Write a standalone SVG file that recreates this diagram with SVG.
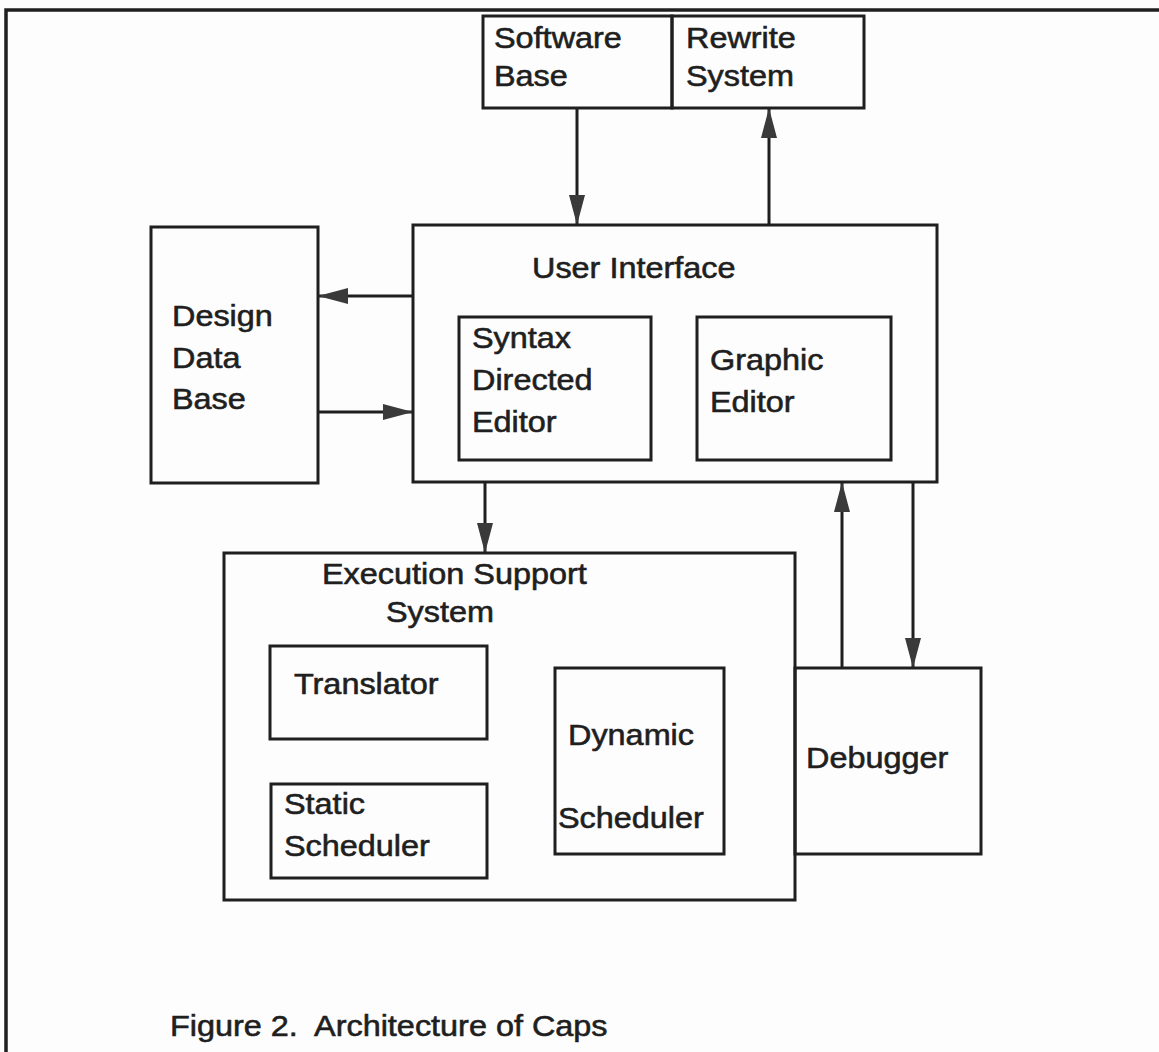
<svg xmlns="http://www.w3.org/2000/svg" width="1159" height="1052" viewBox="0 0 1159 1052">
  <defs>
    <style>
      .box { fill: none; stroke: #1f1f1f; stroke-width: 3; }
      .frame { fill: none; stroke: #1f1f1f; stroke-width: 3.5; }
      .wire { fill: none; stroke: #1f1f1f; stroke-width: 3; }
      .lbl { font-family: "Liberation Sans", Arial, sans-serif; font-size: 30px; fill: #1f1f1f; stroke: #1f1f1f; stroke-width: 0.6; }
      .cap { font-family: "Liberation Sans", Arial, sans-serif; font-size: 30px; fill: #1f1f1f; stroke: #1f1f1f; stroke-width: 0.6; }
    </style>
    <marker id="head" markerUnits="userSpaceOnUse" markerWidth="30" markerHeight="16" refX="30" refY="8" orient="auto">
      <path d="M0,0 L30,8 L0,16 Z" fill="#3a3a3a"/>
    </marker>
  </defs>

  <rect x="0" y="0" width="1159" height="1052" fill="#fdfdfd"/>

  <!-- page frame -->
  <path class="frame" d="M6,1052 V10 H1159"/>

  <g id="software-base">
    <rect class="box" x="483" y="16" width="189" height="92"/>
    <text class="lbl" transform="translate(494 48) scale(1.08 1)"><tspan x="0">Software</tspan><tspan x="0" dy="38">Base</tspan></text>
  </g>

  <g id="rewrite-system">
    <rect class="box" x="672" y="16" width="192" height="92"/>
    <text class="lbl" transform="translate(686 48) scale(1.08 1)"><tspan x="0">Rewrite</tspan><tspan x="0" dy="38">System</tspan></text>
  </g>

  <g id="design-data-base">
    <rect class="box" x="151" y="227" width="167" height="256"/>
    <text class="lbl" transform="translate(172 326) scale(1.08 1)"><tspan x="0">Design</tspan><tspan x="0" dy="42">Data</tspan><tspan x="0" dy="41">Base</tspan></text>
  </g>

  <g id="user-interface">
    <rect class="box" x="413" y="225" width="524" height="257"/>
    <text class="lbl" transform="translate(532 278) scale(1.08 1)">User Interface</text>
  </g>

  <g id="syntax-directed-editor">
    <rect class="box" x="459" y="317" width="192" height="143"/>
    <text class="lbl" transform="translate(472 348) scale(1.08 1)"><tspan x="0">Syntax</tspan><tspan x="0" dy="42">Directed</tspan><tspan x="0" dy="42">Editor</tspan></text>
  </g>

  <g id="graphic-editor">
    <rect class="box" x="697" y="317" width="194" height="143"/>
    <text class="lbl" transform="translate(710 370) scale(1.08 1)"><tspan x="0">Graphic</tspan><tspan x="0" dy="42">Editor</tspan></text>
  </g>

  <g id="execution-support-system">
    <rect class="box" x="224" y="553" width="571" height="347"/>
    <text class="lbl" transform="translate(322 584) scale(1.08 1)">Execution Support</text>
    <text class="lbl" transform="translate(386 622) scale(1.08 1)">System</text>
  </g>

  <g id="translator">
    <rect class="box" x="270" y="646" width="217" height="93"/>
    <text class="lbl" transform="translate(294 694) scale(1.08 1)">Translator</text>
  </g>

  <g id="static-scheduler">
    <rect class="box" x="271" y="784" width="216" height="94"/>
    <text class="lbl" transform="translate(284 814) scale(1.08 1)"><tspan x="0">Static</tspan><tspan x="0" dy="42">Scheduler</tspan></text>
  </g>

  <g id="dynamic-scheduler">
    <rect class="box" x="555" y="668" width="169" height="186"/>
    <text class="lbl" transform="translate(568 745) scale(1.08 1)">Dynamic</text>
    <text class="lbl" transform="translate(558 828) scale(1.08 1)">Scheduler</text>
  </g>

  <g id="debugger">
    <rect class="box" x="795" y="668" width="186" height="186"/>
    <text class="lbl" transform="translate(806 768) scale(1.08 1)">Debugger</text>
  </g>

  <g id="connectors">
    <line class="wire" x1="577" y1="108" x2="577" y2="225" marker-end="url(#head)"/>
    <line class="wire" x1="769" y1="225" x2="769" y2="108" marker-end="url(#head)"/>
    <line class="wire" x1="413" y1="296" x2="318" y2="296" marker-end="url(#head)"/>
    <line class="wire" x1="318" y1="412" x2="413" y2="412" marker-end="url(#head)"/>
    <line class="wire" x1="485" y1="482" x2="485" y2="553" marker-end="url(#head)"/>
    <line class="wire" x1="842" y1="668" x2="842" y2="482" marker-end="url(#head)"/>
    <line class="wire" x1="913" y1="482" x2="913" y2="668" marker-end="url(#head)"/>
  </g>

  <text class="cap" transform="translate(170 1036) scale(1.08 1)" xml:space="preserve">Figure 2.  Architecture of Caps</text>
</svg>
